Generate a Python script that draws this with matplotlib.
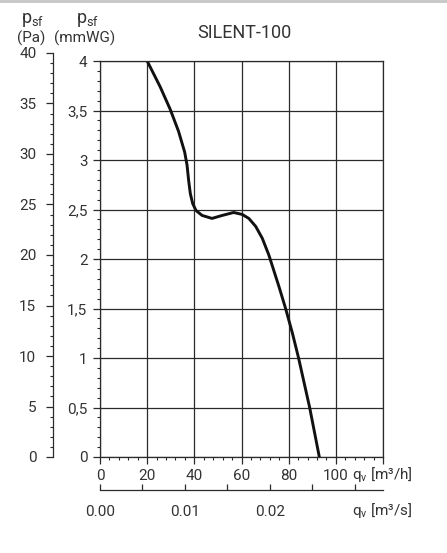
import numpy as np
import matplotlib
matplotlib.use('Agg')
import matplotlib.pyplot as plt
from matplotlib.ticker import MultipleLocator, FixedLocator

plt.rcParams['font.family'] = ['Roboto', 'DejaVu Sans']

# fan curve: flow in m3/h, static pressure in mmWG
flow_m3h = [20.0, 25.5, 29.8, 33.3, 35.9, 36.9, 37.6, 38.3, 39.3, 40.7, 43.3, 47.5,
            51.8, 56.7, 60.3, 63.1, 66.0, 68.8, 71.6, 75.9, 78.7, 81.6, 84.2, 88.9, 93.0]
psf_mmwg = [4.0, 3.74, 3.51, 3.29, 3.08, 2.95, 2.79, 2.66, 2.56, 2.49, 2.44, 2.41,
            2.44, 2.47, 2.45, 2.41, 2.33, 2.21, 2.04, 1.72, 1.50, 1.25, 1.0, 0.50, 0.0]

x_ticks = [0, 20, 40, 60, 80, 100, 120]
x_labels = ['0', '20', '40', '60', '80', '100', '']
y_ticks = [0, 0.5, 1, 1.5, 2, 2.5, 3, 3.5, 4]
y_labels = ['0', '0,5', '1', '1,5', '2', '2,5', '3', '3,5', '4']
pa_ticks = [0, 5, 10, 15, 20, 25, 30, 35, 40]
qs_ticks = [0, 0.005, 0.01, 0.015, 0.02, 0.025, 0.03]
qs_labels = ['0.00', '', '0.01', '', '0.02', '', '']

W, H = 447, 553
txt = '#333333'
line = '#2a2a2a'
fs = 11

fig = plt.figure(figsize=(W / 100, H / 100), dpi=100)

def box(x0, y0, x1, y1):
    # pixel box -> figure fraction [left, bottom, width, height]
    return [x0 / W, 1 - y1 / H, (x1 - x0) / W, (y1 - y0) / H]

# main plot (mmWG)
ax = fig.add_axes(box(100, 61, 383, 457))
ax.plot(flow_m3h, psf_mmwg, color='#111111', lw=2.1, solid_joinstyle='round')
ax.set_xlim(0, 120)
ax.set_ylim(0, 4)
ax.set_xticks(x_ticks, x_labels)
ax.set_yticks(y_ticks, y_labels)
ax.xaxis.set_minor_locator(MultipleLocator(4))
ax.yaxis.set_minor_locator(MultipleLocator(0.1))
ax.grid(True, which='major', color=line, lw=0.9)
ax.tick_params(which='major', length=5, width=0.9, color=line, labelcolor=txt,
               labelsize=fs, pad=4)
ax.tick_params(which='minor', length=2.5, width=0.8, color=line)
for s in ax.spines.values():
    s.set_color(line)
    s.set_linewidth(0.9)

# Pa axis on the far left
pa = fig.add_axes(box(53, 53, 54, 457))
pa.set_ylim(0, 40)
pa.set_yticks(pa_ticks)
pa.yaxis.set_minor_locator(MultipleLocator(1))
pa.set_xticks([])
pa.patch.set_visible(False)
for k in ['top', 'right', 'bottom']:
    pa.spines[k].set_visible(False)
pa.spines['left'].set_color(line)
pa.spines['left'].set_linewidth(0.9)
pa.tick_params(which='major', length=5, width=0.9, color=line, labelcolor=txt,
               labelsize=fs, pad=7)
pa.tick_params(which='minor', length=2.5, width=0.8, color=line)

# m3/s axis underneath
qs = fig.add_axes(box(100, 489, 383, 490))
qs.set_xlim(0, 120 / 3600)
qs.xaxis.set_major_locator(FixedLocator(qs_ticks))
qs.set_xticklabels(qs_labels)
qs.set_yticks([])
qs.patch.set_visible(False)
for k in ['top', 'right', 'left']:
    qs.spines[k].set_visible(False)
qs.spines['bottom'].set_color(line)
qs.spines['bottom'].set_linewidth(0.9)
qs.tick_params(axis='x', direction='in', length=4, width=0.9, color=line,
               labelcolor=txt, labelsize=fs, pad=11)

# headers and unit labels
fig.text(244 / W, 1 - 33 / H, 'SILENT-100', ha='center', va='center',
         fontsize=13, color=txt)
fig.text(33 / W, 1 - 20 / H, r'$\mathregular{p_{sf}}$', ha='center', va='center',
         fontsize=13, color=txt)
fig.text(31 / W, 1 - 38 / H, '(Pa)', ha='center', va='center', fontsize=fs, color=txt)
fig.text(88 / W, 1 - 20 / H, r'$\mathregular{p_{sf}}$', ha='center', va='center',
         fontsize=13, color=txt)
fig.text(85 / W, 1 - 38 / H, '(mmWG)', ha='center', va='center', fontsize=fs, color=txt)
fig.text(352 / W, 1 - 475 / H, r'$\mathregular{q_v}$ [m³/h]', ha='left', va='center',
         fontsize=fs, color=txt)
fig.text(352 / W, 1 - 510 / H, r'$\mathregular{q_v}$ [m³/s]', ha='left', va='center',
         fontsize=fs, color=txt)

# thin grey shadow along the top edge
fig.patches.append(plt.Rectangle((0, 1 - 3 / H), 1, 3 / H, transform=fig.transFigure,
                                 color='#c9c9c9', lw=0))

fig.savefig('out.png', dpi=100)
